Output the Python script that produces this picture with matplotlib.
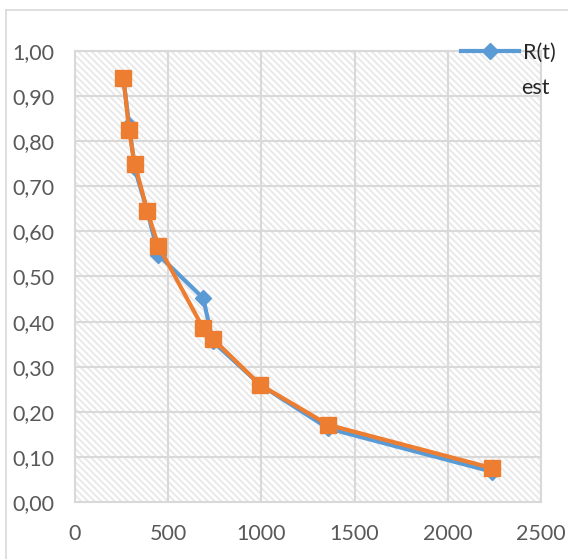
import matplotlib
matplotlib.use("Agg")
import matplotlib.pyplot as plt
from matplotlib.ticker import FuncFormatter, MultipleLocator
from matplotlib.lines import Line2D

# Data
t_values = [260, 290, 320, 388, 447, 688, 739, 993, 1359, 2239]
r_emp = [0.937, 0.837, 0.740, 0.645, 0.548, 0.452, 0.356, 0.260, 0.163, 0.067]
r_est = [0.940, 0.825, 0.750, 0.645, 0.568, 0.385, 0.362, 0.260, 0.171, 0.075]
legend_label = "R(t)"
legend_label2 = "est"
x_ticks = [0, 500, 1000, 1500, 2000, 2500]

BLUE = "#5B9BD5"
ORANGE = "#ED7D31"
GRID = "#D9D9D9"
TEXT = "#595959"

plt.rcParams['font.family'] = ['Lato', 'DejaVu Sans']
plt.rcParams['hatch.color'] = '#E8E8E8'
plt.rcParams['hatch.linewidth'] = 1.3

W, H = 568, 559
fig = plt.figure(figsize=(W / 100, H / 100), dpi=100)
fig.patch.set_facecolor('white')

# chart-area border (left & top visible)
fig.add_artist(Line2D([6 / W, 6 / W], [0, 1 - 10 / H], transform=fig.transFigure, color=GRID, lw=1.2))
fig.add_artist(Line2D([6 / W, 1], [1 - 10 / H, 1 - 10 / H], transform=fig.transFigure, color=GRID, lw=1.2))

left, right, top, bottom = 75 / W, 541 / W, 1 - 51 / H, 1 - 502 / H
ax = fig.add_axes([left, bottom, right - left, top - bottom])
ax.patch.set_facecolor('white')
ax.patch.set_hatch('\\\\\\\\\\')
ax.patch.set_edgecolor('#E8E8E8')
ax.patch.set_linewidth(0)

ax.set_xlim(0, 2500)
ax.set_ylim(0, 1.0)
ax.yaxis.set_major_locator(MultipleLocator(0.1))
ax.set_xticks(x_ticks)
ax.yaxis.set_major_formatter(FuncFormatter(lambda v, p: f"{v:.2f}".replace('.', ',')))
ax.xaxis.set_major_formatter(FuncFormatter(lambda v, p: f"{int(round(v))}"))
ax.grid(True, color=GRID, lw=1.5)
ax.set_axisbelow(True)
for s in ax.spines.values():
    s.set_color(GRID)
    s.set_linewidth(1.5)
ax.tick_params(length=0, labelsize=15.5, colors=TEXT)
ax.tick_params(axis='y', pad=15)
ax.tick_params(axis='x', pad=16)

ax.plot(t_values, r_emp, color=BLUE, lw=3, marker='D', ms=8, mfc=BLUE, mec=BLUE,
        label=legend_label, zorder=3, clip_on=False)
ax.plot(t_values, r_est, color=ORANGE, lw=3, marker='s', ms=11, mfc=ORANGE, mec=ORANGE,
        zorder=4, clip_on=False)

h = Line2D([], [], color=BLUE, lw=3, marker='D', ms=8)
leg = fig.legend(handles=[h], labels=[legend_label], loc='center left',
                 bbox_to_anchor=(461 / W, 1 - 53 / H), frameon=False, fontsize=15.5,
                 handlelength=2.7, handletextpad=0.2, borderpad=0, borderaxespad=0,
                 labelcolor='#262626')
leg.set_zorder(10)
fig.text(521 / W, 1 - 88 / H, legend_label2, fontsize=15.5, color='#262626', va='center', ha='left')

fig.savefig("out.png", dpi=100, facecolor='white')
